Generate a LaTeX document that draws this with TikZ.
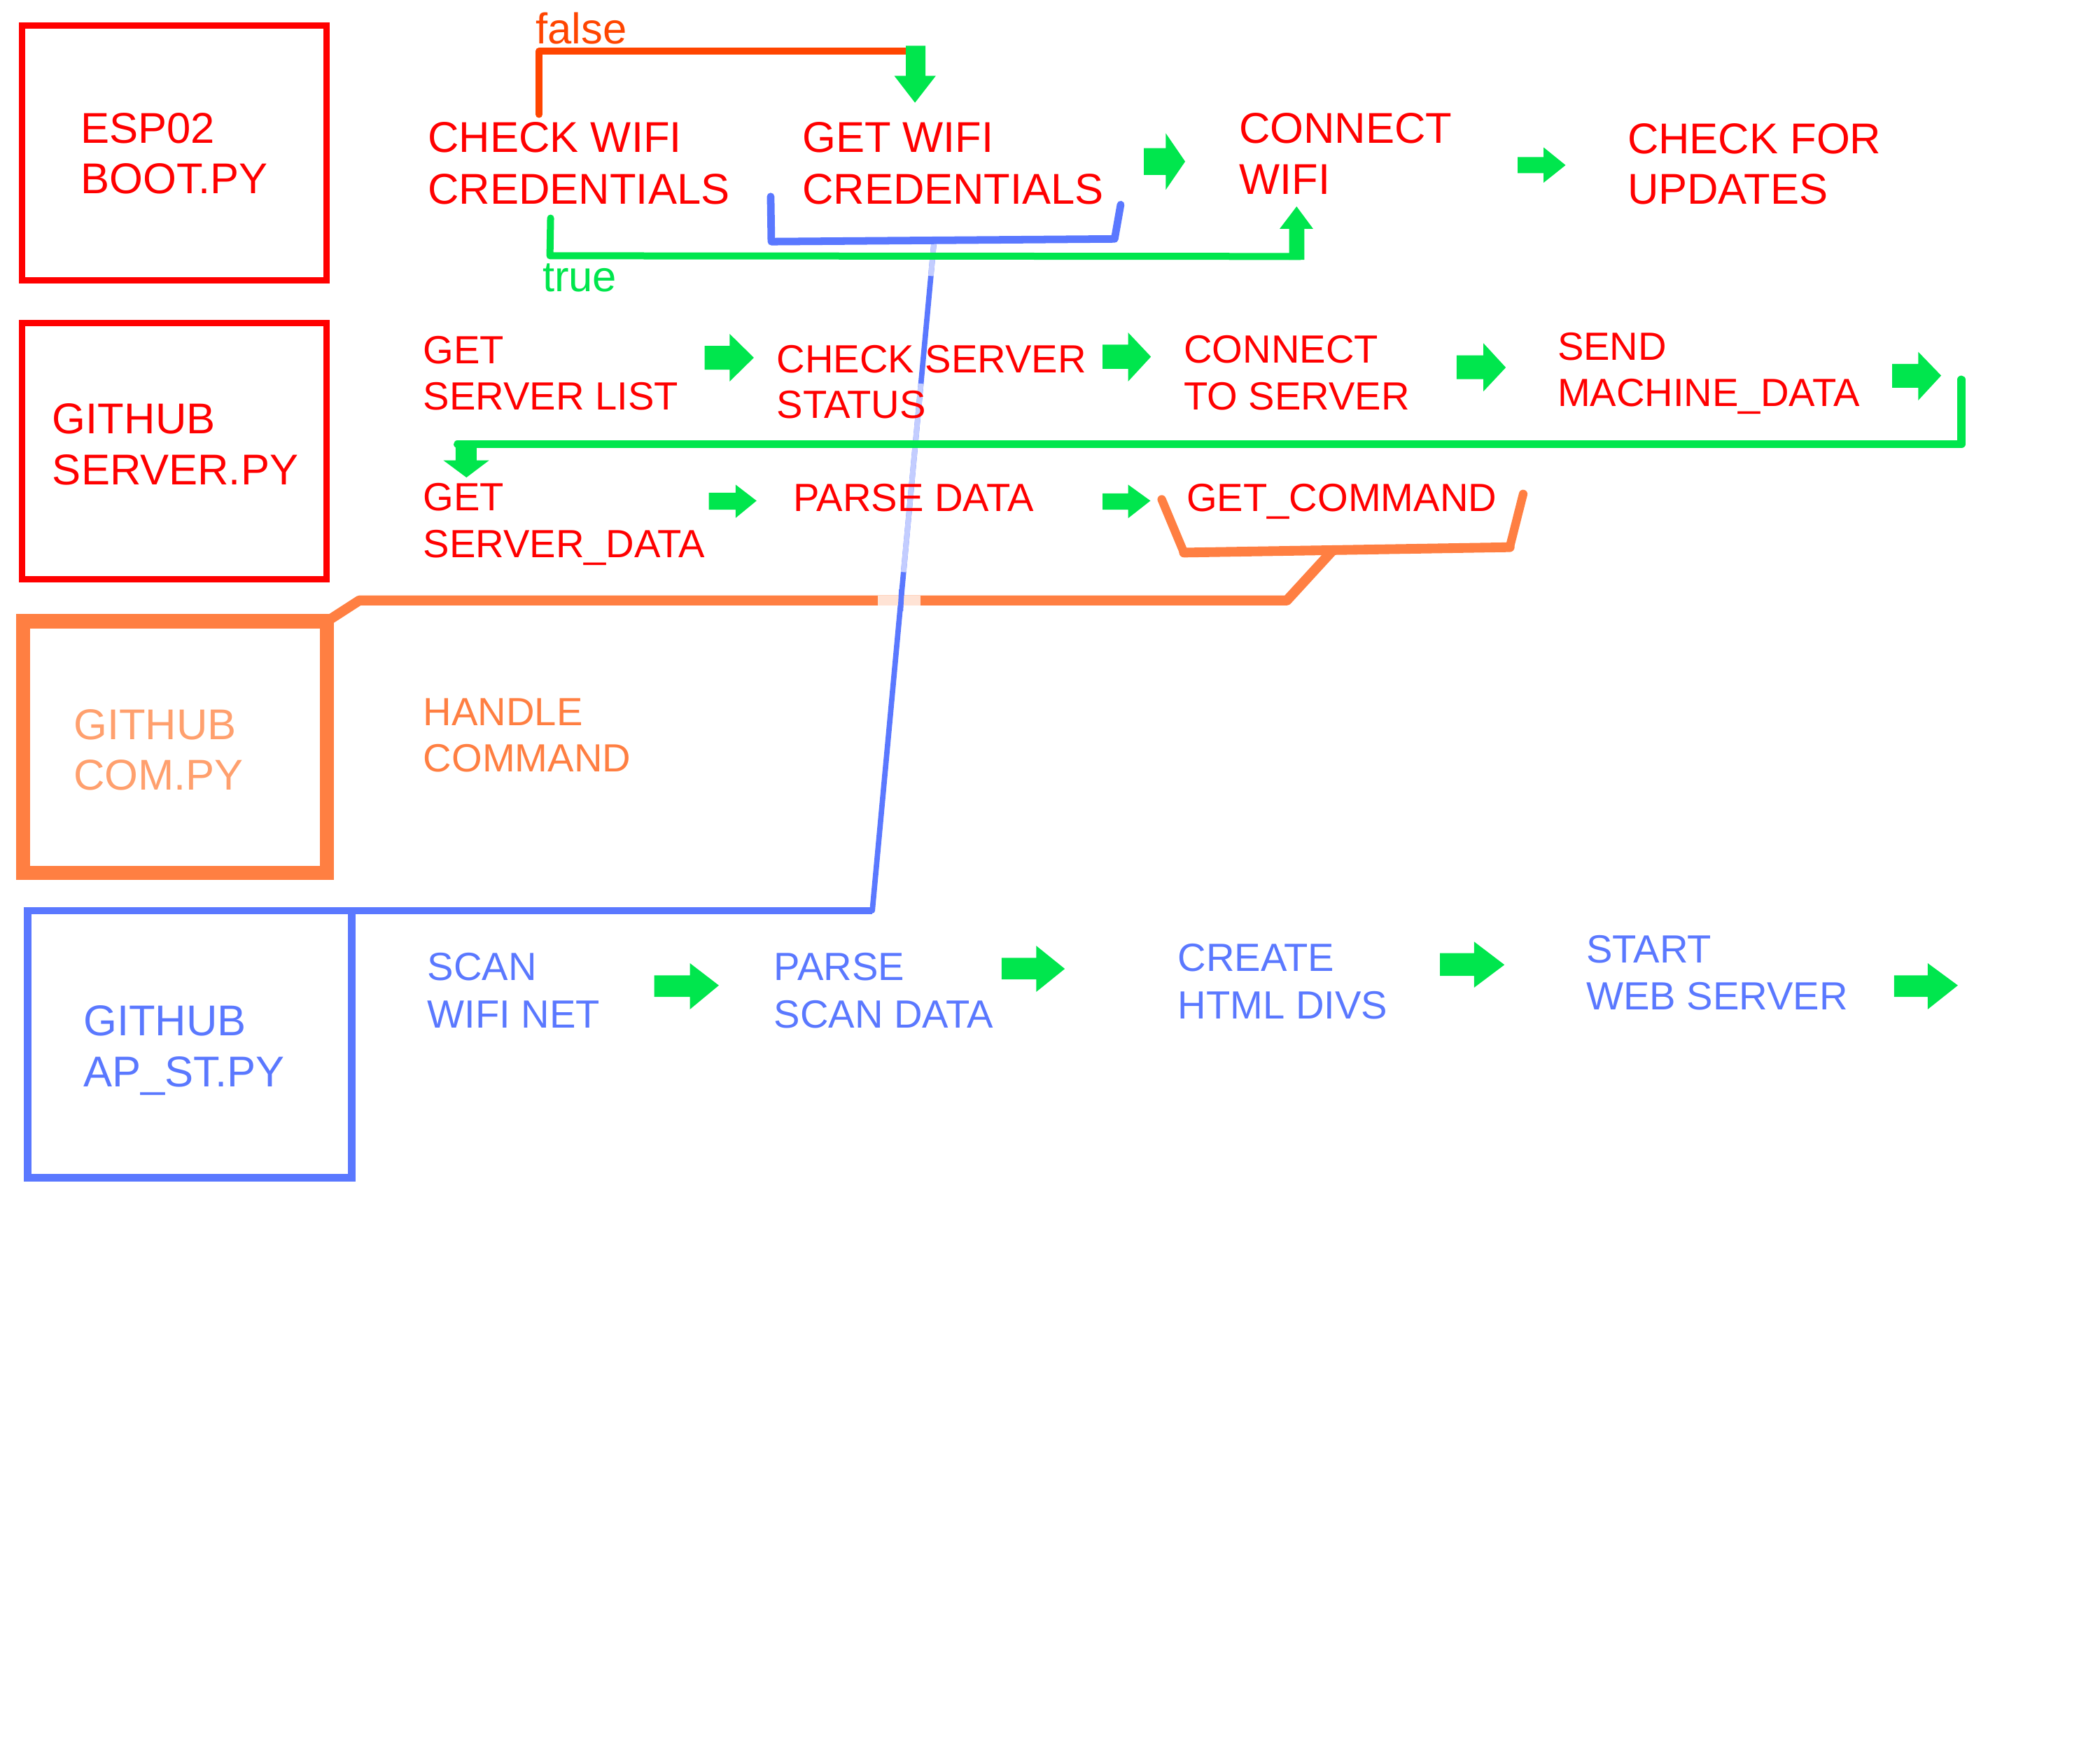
\documentclass[tikz,border=0pt]{standalone}
\usepackage{fontspec}
\setmainfont{Liberation Sans}
\definecolor{cred}{HTML}{FF0000}
\definecolor{cgreen}{HTML}{00E64D}
\definecolor{cblue}{HTML}{5A78FF}
\definecolor{cbluelight}{HTML}{C3CDFF}
\definecolor{corange}{HTML}{FF7F42}
\definecolor{corangelight}{HTML}{FFE3D5}
\definecolor{cfalse}{HTML}{FF4500}
\definecolor{ccomtxt}{HTML}{FFA06E}
% right-pointing green block arrow: x0 xb xt ys1 ys2 yh1 yh2 yt
\newcommand{\garrowR}[8]{%
  \fill[cgreen] (#1,#4) -- (#2,#4) -- (#2,#6) -- (#3,#8) -- (#2,#7) -- (#2,#5) -- (#1,#5) -- cycle;}
\begin{document}
\begin{tikzpicture}[x=0.5pt,y=-0.5pt,line join=round,line cap=round,
  lbl/.style={anchor=north west,inner sep=0pt,outer sep=0pt,align=left},
  bigtxt/.style={lbl,font=\fontsize{16}{18.75}\selectfont},
  smalltxt/.style={lbl,font=\fontsize{14.6}{17.5}\selectfont},
  boxstyle/.style={inner sep=0pt,outer sep=0pt,line join=miter,line cap=butt},
  redbox/.style={boxstyle,draw=cred,line width=2.35pt,minimum width=113.2pt},
  greenline/.style={draw=cgreen,line width=2.8pt},
  blueline/.style={draw=cblue,line width=2.6pt},
  orangeline/.style={draw=corange,line width=3.6pt}
]
\useasboundingbox (0,0) rectangle (1560,1300);

% ---------------- boxes ----------------
\node[redbox,minimum height=94.75pt] (espbox) at (129.5,113.55) {};
\node[redbox,minimum height=95.15pt] (srvbox) at (129.5,335.15) {};
\node[boxstyle,draw=corange,line width=5.25pt,minimum width=112.9pt,minimum height=93.5pt] (combox) at (130.1,555) {};
\node[boxstyle,draw=cblue,line width=2.75pt,minimum width=120.4pt,minimum height=99.25pt] (apbox) at (140.9,775.75) {};

\node[bigtxt,text=cred] (esptxt) at (60,84) {ESP02\\BOOT.PY};
\node[bigtxt,text=cred] (srvtxt) at (39,300) {GITHUB\\SERVER.PY};
\node[bigtxt,text=ccomtxt] (comtxt) at (54.7,527) {GITHUB\\COM.PY};
\node[bigtxt,text=cblue,font=\fontsize{16}{19}\selectfont] (aptxt) at (62,747) {GITHUB\\AP\_ST.PY};

% ---------------- coordinates ----------------
\coordinate (bd) at (694,178);   % top of blue diagonal (on bracket)
\coordinate (bj) at (648,676.5); % bottom of blue diagonal

% blue diagonal (drawn first, under other lines)
\draw[blueline,line width=2pt] (bd) -- (bj);
\draw[cbluelight,line width=2pt,line cap=butt] (693.8,180) -- (691.5,205);
\draw[cbluelight,line width=2pt,line cap=butt] (684.1,285) -- (671.2,425);

% blue connector from AP box to the diagonal
\draw[blueline,line width=2.75pt,line cap=butt] (apbox.north east) -- (bj);

% ---------------- row 1 texts ----------------
\node[bigtxt,text=cred,font=\fontsize{16}{19}\selectfont] (chk) at (318,91) {CHECK WIFI\\CREDENTIALS};
\node[bigtxt,text=cred,font=\fontsize{16}{19}\selectfont] (getw) at (596,91) {GET WIFI\\CREDENTIALS};
\node[bigtxt,text=cred,font=\fontsize{16}{18.9}\selectfont] (conn) at (920.5,84) {CONNECT\\WIFI};
\node[bigtxt,text=cred,font=\fontsize{16}{18.5}\selectfont] (upd) at (1209,92) {CHECK FOR\\UPDATES};
\node[lbl,text=cfalse,font=\fontsize{16}{19}\selectfont] (falsetxt) at (398,9.5) {false};
\node[lbl,text=cgreen,font=\fontsize{16}{19}\selectfont] (truetxt) at (403,196) {true};

% false branch
\coordinate (f0) at (400.5,85);
\coordinate (f1) at (400.5,38);
\coordinate (f2) at (676,38);
\draw[draw=cfalse,line width=2.6pt] (f0) -- (f1) -- (f2);
\fill[cgreen] (673,34) -- (687.5,34) -- (687.5,56.3) -- (695.2,56.3) -- (679.7,76.3) -- (664.3,56.3) -- (673,56.3) -- cycle;

% true branch
\coordinate (t0) at (409,162);
\coordinate (t1) at (408.5,190);
\coordinate (t2) at (966,190.5);
\draw[greenline,line width=2.6pt] (t0) -- (t1) -- (t2);
\fill[cgreen] (957.6,193) -- (969,193) -- (969,170) -- (975.5,170) -- (963.2,153.4) -- (950.6,170) -- (957.6,170) -- cycle;

% blue bracket under GET WIFI CREDENTIALS
\coordinate (bb0) at (572.5,146);
\coordinate (bb1) at (573,179.5);
\coordinate (bb2) at (828,177.5);
\coordinate (bb3) at (832.5,152);
\draw[blueline,line width=2.8pt] (bb0) -- (bb1) -- (bb2) -- (bb3);

% row 1 block arrows
\garrowR{849.7}{866}{880.4}{110}{130}{99}{141}{120}
\garrowR{1127.4}{1146.7}{1163}{116.7}{128.6}{109.5}{135.7}{122.7}

% ---------------- row 2 ----------------
\node[smalltxt,text=cred,font=\fontsize{14.6}{17.35}\selectfont] (gsl) at (314.5,249.6) {GET\\SERVER LIST};
\node[smalltxt,text=cred,font=\fontsize{14.6}{16.9}\selectfont] (css) at (577,256.5) {CHECK SERVER\\STATUS};
\node[smalltxt,text=cred] (cts) at (879.5,249) {CONNECT\\TO SERVER};
\node[smalltxt,text=cred,font=\fontsize{14.6}{17.35}\selectfont] (smd) at (1157,247) {SEND\\MACHINE\_DATA};
\node[smalltxt,text=cred,font=\fontsize{14.6}{17.3}\selectfont] (gsd) at (314.5,359) {GET\\SERVER\_DATA};
\node[smalltxt,text=cred] (pd) at (589.5,359.5) {PARSE DATA};
\node[smalltxt,text=cred] (gc) at (881.5,359.5) {GET\_COMMAND};

\garrowR{523.5}{542}{560}{257}{274.6}{248}{283.4}{265.7}
\garrowR{819}{838}{855}{256}{274}{247}{283.4}{265}
\garrowR{1082}{1102}{1118.6}{264}{281.6}{255}{290.7}{273}
\garrowR{1405.6}{1425}{1442}{270.4}{288}{261.4}{297.4}{279}
\garrowR{526.5}{546.4}{562}{366}{378.6}{360}{384.8}{372}
\garrowR{819}{838}{854.6}{366.6}{378.6}{360}{385}{372}

% green loop from SEND MACHINE_DATA back to GET SERVER_DATA
\coordinate (g0) at (1457,282);
\coordinate (g1) at (1457,330);
\coordinate (g2) at (340,330);
\draw[greenline,line width=3pt] (g0) -- (g1) -- (g2);
\fill[cgreen] (338.5,327.5) -- (354,327.5) -- (354,342) -- (363.3,342) -- (346.5,354.7) -- (329.4,342) -- (338.5,342) -- cycle;

% orange bracket under GET_COMMAND and connector to COM box
\coordinate (ob0) at (863,371);
\coordinate (ob1) at (879.5,410.5);
\coordinate (ob2) at (1121.5,406.5);
\coordinate (ob3) at (1131.5,367);
\draw[orangeline,line width=3.2pt] (ob0) -- (ob1) -- (ob2) -- (ob3);
\draw[orangeline,line width=3.6pt] (ob1) -- (ob2);
\coordinate (oc0) at (989,410);
\coordinate (oc1) at (956,446);
\coordinate (oc2) at (267,446);
\draw[orangeline,line width=3.7pt] (oc0) -- (oc1) -- (oc2) -- (combox.north east);
\draw[corangelight,line width=3.7pt,line cap=butt] (652,446) -- (684,446);
\draw[blueline,line width=2pt,line cap=butt] (669.8,438) -- (668.9,454);

% ---------------- row 3 ----------------
\node[smalltxt,text=corange,font=\fontsize{14.6}{17}\selectfont] (hc) at (314.5,519) {HANDLE\\COMMAND};

% ---------------- row 4 ----------------
\node[smalltxt,text=cblue] (scan) at (317.5,708) {SCAN\\WIFI NET};
\node[smalltxt,text=cblue] (psd) at (575,708) {PARSE\\SCAN DATA};
\node[smalltxt,text=cblue,font=\fontsize{14.6}{17.65}\selectfont] (chd) at (875,701) {CREATE\\HTML DIVS};
\node[smalltxt,text=cblue,font=\fontsize{14.6}{17.4}\selectfont] (sws) at (1178.5,694.7) {START\\WEB SERVER};

\garrowR{486}{512.5}{534}{724.5}{740.6}{715.5}{749.8}{732}
\garrowR{744}{769.8}{791}{711.6}{727.6}{702.6}{736.8}{719.7}
\garrowR{1069.7}{1095}{1117.6}{708}{725}{699.5}{733.7}{716.7}
\garrowR{1407}{1432}{1454.4}{724.5}{740.6}{715.5}{749.8}{732}
\end{tikzpicture}
\end{document}
